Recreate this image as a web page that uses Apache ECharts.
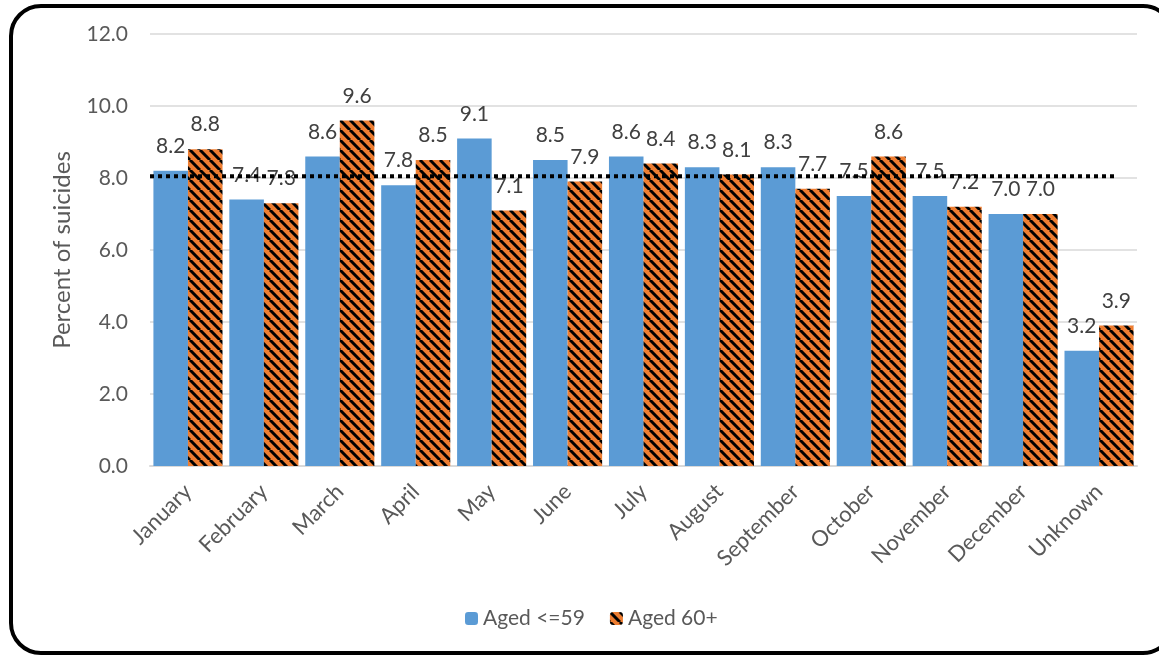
<!DOCTYPE html>
<html>
<head>
<meta charset="utf-8">
<script src="https://cdn.jsdelivr.net/npm/echarts@6/dist/echarts.min.js"></script>
<style>
  html, body { margin: 0; padding: 0; background: #fff; }
  #chart { width: 1159px; height: 656px; }
</style>
</head>
<body>
<div id="chart"></div>
<script>
// Monthly share of suicides by age group (percent)
const months = ['January', 'February', 'March', 'April', 'May', 'June', 'July',
  'August', 'September', 'October', 'November', 'December', 'Unknown'];
const agedUnder60 = [8.2, 7.4, 8.6, 7.8, 9.1, 8.5, 8.6, 8.3, 8.3, 7.5, 7.5, 7.0, 3.2];
const aged60Plus = [8.8, 7.3, 9.6, 8.5, 7.1, 7.9, 8.4, 8.1, 7.7, 8.6, 7.2, 7.0, 3.9];
// Expected monthly share if suicides were spread evenly (dotted reference line)
const evenShare = 8.05;
const evenLineSpan = [0, 12.74];
const yTicks = [0, 2, 4, 6, 8, 10, 12];

const FONT = 'Lato, "Open Sans", sans-serif';

// Orange fill with black diagonal hatching
function hatchPattern() {
  const s = 10;
  const c = document.createElement('canvas');
  c.width = s; c.height = s;
  const g = c.getContext('2d');
  g.fillStyle = '#ED7D31';
  g.fillRect(0, 0, s, s);
  g.strokeStyle = '#000';
  g.lineWidth = 3;
  g.beginPath();
  for (let k = -1; k <= 1; k++) {
    g.moveTo(k * s, 0);
    g.lineTo(k * s + s, s);
  }
  g.stroke();
  return c;
}
const hatch = { image: hatchPattern(), repeat: 'repeat' };

const labelStyle = {
  show: true, position: 'top', distance: 14, fontSize: 21, color: '#404040',
  fontFamily: FONT, formatter: p => p.value.toFixed(1)
};

const chart = echarts.init(document.getElementById('chart'));
chart.setOption({
  animation: false,
  textStyle: { fontFamily: FONT },
  graphic: [{
    type: 'rect',
    shape: { x: 11, y: 6, width: 1162, height: 647, r: 30 },
    style: { fill: 'none', stroke: '#000', lineWidth: 4 },
    z: 100
  }],
  grid: { left: 150, right: 22, top: 34, bottom: 190 },
  legend: {
    bottom: 22,
    left: 460,
    itemWidth: 13,
    itemHeight: 13,
    itemGap: 25,
    textStyle: { fontFamily: FONT, fontSize: 21, color: '#595959' },
    data: ['Aged <=59', 'Aged 60+']
  },
  xAxis: [{
    type: 'category',
    data: months,
    axisTick: { show: false },
    axisLine: { lineStyle: { color: '#d9d9d9', width: 2 } },
    axisLabel: { rotate: 45, fontSize: 22, color: '#595959', margin: 22, fontFamily: FONT }
  }, {
    type: 'value',
    min: 0,
    max: months.length,
    show: false
  }],
  yAxis: {
    type: 'value',
    min: yTicks[0],
    max: yTicks[yTicks.length - 1],
    interval: 2,
    name: 'Percent of suicides',
    nameLocation: 'middle',
    nameGap: 76,
    nameTextStyle: { fontSize: 24, color: '#595959', fontFamily: FONT },
    axisLine: { show: false },
    axisTick: { show: false },
    axisLabel: { fontSize: 21, color: '#595959', margin: 22, fontFamily: FONT,
      formatter: v => v.toFixed(1) },
    splitLine: { lineStyle: { color: '#d9d9d9', width: 1.5 } }
  },
  series: [{
    name: 'Aged <=59',
    type: 'bar',
    data: agedUnder60,
    barGap: '0%',
    barCategoryGap: '9%',
    itemStyle: { color: '#5B9BD5' },
    label: labelStyle
  }, {
    name: 'Aged 60+',
    type: 'bar',
    data: aged60Plus,
    itemStyle: { color: hatch },
    label: labelStyle
  }, {
    name: 'Even share',
    type: 'line',
    xAxisIndex: 1,
    data: evenLineSpan.map(x => [x, evenShare]),
    symbol: 'none',
    lineStyle: { color: '#000', width: 4, type: [4, 4] },
    z: 5,
    silent: true
  }]
});
</script>
</body>
</html>
